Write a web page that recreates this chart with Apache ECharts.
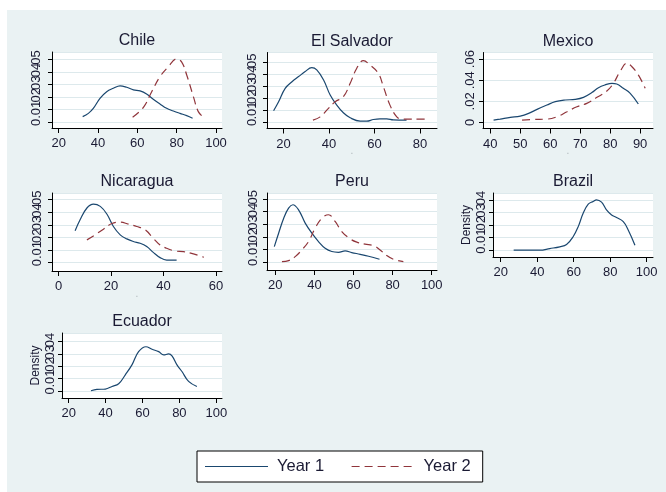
<!DOCTYPE html>
<html>
<head>
<meta charset="utf-8">
<script src="https://cdn.jsdelivr.net/npm/echarts@6/dist/echarts.min.js"></script>
<style>
  html, body { margin: 0; padding: 0; background: #ffffff; }
  #bg { position: absolute; left: 7px; top: 10px; width: 659px; height: 482px; background: #eaf2f3; }
  #chart { position: absolute; left: 0; top: 0; width: 666px; height: 492px; }
</style>
</head>
<body>
<div id="bg"></div>
<div id="chart"></div>
<script>
// ---- data ----
const countries = ['Chile', 'El Salvador', 'Mexico', 'Nicaragua', 'Peru', 'Brazil', 'Ecuador'];
const seriesNames = ['Year 1', 'Year 2'];

const chileYear1 = [[32.2,.0045],[35.1,.0071],[37.6,.011],[41.0,.019],[44.4,.0243],[47.8,.027],[51.2,.029],[54.6,.0278],[58.0,.0257],[61.4,.0249],[64.7,.0225],[68.1,.0183],[71.5,.0146],[74.9,.0111],[78.3,.009],[81.7,.0071],[85.1,.0053],[88.1,.0032]];
const chileYear2 = [[57.6,.004],[63.1,.0119],[67.3,.0243],[71.5,.0362],[75.8,.0442],[80.0,.0503],[82.5,.048],[85.1,.0376],[88.5,.0204],[91.0,.0085],[93.6,.004]];

const elSalvadorYear1 = [[15.6,.0098],[17.8,.0173],[20.7,.0285],[23.7,.034],[26.6,.0383],[29.5,.0425],[32.4,.0458],[34.6,.0439],[37.6,.0355],[40.5,.0229],[43.4,.0145],[46.3,.0081],[49.3,.0039],[53.7,.0011],[56.6,.0011],[59.5,.0025],[62.4,.0031],[65.4,.0031],[68.3,.0022],[74.1,.002]];
const elSalvadorYear2 = [[32.9,.002],[36.1,.0047],[39.0,.0103],[42.7,.0173],[46.3,.0215],[49.3,.0327],[52.2,.0453],[55.1,.0517],[58.0,.048],[61.7,.041],[63.9,.0299],[66.8,.0145],[69.8,.0047],[72.0,.0028],[75.6,.0028],[80.0,.0028],[84.1,.0028]];

const mexicoYear1 = [[41.1,.0022],[43.3,.0032],[46.7,.0048],[50.0,.006],[52.8,.0086],[55.6,.0124],[58.9,.0165],[61.7,.0197],[65.0,.0213],[68.3,.0219],[71.1,.0238],[73.9,.0283],[76.1,.033],[78.3,.0356],[80.6,.0371],[82.2,.0365],[84.4,.0324],[86.7,.0276],[89.4,.0175]];
const mexicoYear2 = [[50.6,.0022],[54.4,.0029],[58.9,.0032],[62.2,.0054],[65.6,.0102],[68.9,.0149],[72.2,.0181],[75.6,.0238],[78.9,.0298],[81.1,.0371],[83.3,.0483],[85.6,.0562],[87.2,.053],[89.4,.0451],[91.7,.0324]];

const nicaraguaYear1 = [[6.3,.0253],[8.2,.034],[10.8,.0434],[13.3,.0465],[15.9,.0447],[18.4,.0386],[20.9,.0287],[23.5,.0221],[26.0,.0189],[28.5,.0168],[31.1,.0154],[33.6,.0128],[36.1,.0082],[38.7,.004],[41.2,.0021],[45.0,.0021]];
const nicaraguaYear2 = [[10.8,.0181],[13.9,.0221],[17.1,.0266],[20.3,.0311],[23.5,.0322],[26.6,.0306],[29.8,.0287],[33.0,.0261],[36.1,.0194],[38.7,.0141],[41.2,.0114],[44.4,.0093],[47.6,.0088],[50.7,.0074],[55.4,.0043]];

const peruYear1 = [[19.5,.0124],[21.7,.023],[24.3,.0349],[26.8,.0429],[29.0,.0455],[31.9,.0415],[35.3,.031],[38.7,.023],[42.1,.0164],[45.5,.0111],[48.9,.0085],[52.3,.0079],[55.7,.009],[59.1,.0077],[63.4,.0063],[67.7,.0048],[73.3,.0024]];
const peruYear2 = [[23.4,.0005],[26.8,.0013],[30.2,.0045],[33.6,.0098],[37.0,.0164],[40.4,.027],[43.8,.0349],[47.2,.0376],[50.6,.0323],[54.0,.0243],[58.3,.0185],[61.7,.0159],[65.9,.0143],[70.2,.0132],[73.6,.0098],[77.0,.0053],[80.4,.0024],[85.5,.0005]];

const brazilYear1 = [[27.1,0],[34.1,0],[41.4,0],[46.9,.0013],[52.4,.0027],[56.1,.0045],[59.7,.0107],[62.5,.0187],[65.2,.0293],[68.0,.0365],[70.7,.0387],[72.5,.04],[75.3,.0381],[78.0,.032],[80.8,.028],[83.5,.0259],[87.2,.0227],[89.9,.016],[93.6,.004]];

const ecuadorYear1 = [[32.1,0],[35.3,.0011],[39.9,.0014],[43.5,.0035],[47.1,.0057],[50.7,.013],[54.3,.0211],[57.9,.0319],[61.9,.0359],[65.2,.0338],[68.8,.0319],[71.5,.0292],[74.2,.03],[76.0,.0284],[78.7,.0211],[81.4,.0157],[85.0,.0076],[89.5,.0035]];

// tick labels
const chileXTicks = [20, 40, 60, 80, 100];
const chileYTicks = [0, .01, .02, .03, .04, .05];
const elSalvadorXTicks = [20, 40, 60, 80];
const elSalvadorYTicks = [0, .01, .02, .03, .04, .05];
const mexicoXTicks = [40, 50, 60, 70, 80, 90];
const mexicoYTicks = [0, .02, .04, .06];
const nicaraguaXTicks = [0, 20, 40, 60];
const nicaraguaYTicks = [0, .01, .02, .03, .04, .05];
const peruXTicks = [20, 40, 60, 80, 100];
const peruYTicks = [0, .01, .02, .03, .04, .05];
const brazilXTicks = [20, 40, 60, 80, 100];
const brazilYTicks = [0, .01, .02, .03, .04];
const ecuadorXTicks = [20, 40, 60, 80, 100];
const ecuadorYTicks = [0, .01, .02, .03, .04];

// ---- layout (pixel boxes, axis extents, label gaps) ----
const panels = [
  { name: countries[0], box: [52, 52, 170, 76],  x: [16.6, 103.05], y: [-0.0045, 0.0558], ym: 9,   xt: chileXTicks, yt: chileYTicks, s1: chileYear1, s2: chileYear2 },
  { name: countries[1], box: [267, 52.5, 170, 76], x: [12.7, 87.5], y: [-0.0050, 0.0584], ym: 8.5, xt: elSalvadorXTicks, yt: elSalvadorYTicks, s1: elSalvadorYear1, s2: elSalvadorYear2, dot: true },
  { name: countries[2], box: [483, 52.5, 170, 76], x: [37.57, 94.3], y: [-0.0057, 0.0663], ym: 6,   xt: mexicoXTicks, yt: mexicoYTicks, s1: mexicoYear1, s2: mexicoYear2, dot: true },
  { name: countries[3], box: [52, 193, 170, 78],  x: [-2.51, 62.3], y: [-0.0066, 0.0553], ym: 8,   xt: nicaraguaXTicks, yt: nicaraguaYTicks, s1: nicaraguaYear1, s2: nicaraguaYear2, dot: true },
  { name: countries[4], box: [267, 193, 170, 77], x: [15.76, 102.7], y: [-0.0061, 0.0548], ym: 7.5, xt: peruXTicks, yt: peruYTicks, s1: peruYear1, s2: peruYear2 },
  { name: countries[5], box: [493, 193, 160, 64], x: [15.77, 103.5], y: [-0.0054, 0.0454], ym: 5.5, xt: brazilXTicks, yt: brazilYTicks, s1: brazilYear1, density: true },
  { name: countries[6], box: [62, 333, 160, 65],  x: [16.4, 103.1], y: [-0.0059, 0.0471], ym: 5.5, xt: ecuadorXTicks, yt: ecuadorYTicks, s1: ecuadorYear1, density: true }
];

const FONT = "'Liberation Sans', Arial, sans-serif";
const TXT = '#1a1a33';
const NAVY = '#1a476f';
const MAROON = '#90353b';

const ICON_SOLID = 'path://M0,0 M0,6.4H63V7.6H0Z M63,14';
const ICON_DASH = 'path://M0,0 M0,6.4H8V7.6H0Z M13,6.4H21V7.6H13Z M26,6.4H34V7.6H26Z M39,6.4H47V7.6H39Z M52,6.4H60V7.6H52Z M63,14';

const grids = [], xAxes = [], yAxes = [], series = [], graphics = [];

panels.forEach((p, i) => {
  const [l, t, w, h] = p.box;
  const isTick = v => p.yt.some(tv => Math.abs(tv - v) < 1e-9);
  // extreme (empty) entries stop the min/max-label overlap rule from dropping real labels
  const yVals = [p.y[0]].concat(p.yt, [p.y[1]]);
  grids.push({ left: l, top: t, width: w, height: h, show: true, backgroundColor: '#ffffff', borderWidth: 0, outerBoundsMode: 'none', containLabel: false });
  xAxes.push({
    type: 'value', gridIndex: i, min: p.x[0], max: p.x[1],
    axisLine: { show: true, onZero: false, lineStyle: { color: '#000', width: 1 } },
    axisTick: { show: true, length: 5, customValues: p.xt, lineStyle: { color: '#000' } },
    axisLabel: { show: true, customValues: p.xt, margin: 9, fontSize: 13, fontFamily: FONT, color: TXT, hideOverlap: false, showMinLabel: true, showMaxLabel: true },
    splitLine: { show: false },
    name: p.dot ? '.' : '', nameLocation: 'middle', nameGap: 18, nameMoveOverlap: false,
    nameTextStyle: { color: '#b0b8bb', fontSize: 10, fontFamily: FONT }
  });
  yAxes.push({
    type: 'value', gridIndex: i, min: p.y[0], max: p.y[1],
    axisLine: { show: true, onZero: false, lineStyle: { color: '#000', width: 1 } },
    axisTick: { show: true, length: 4, customValues: yVals, lineStyle: { color: '#000' } },
    axisLabel: {
      show: true, customValues: yVals, rotate: 90, margin: p.ym, fontSize: 13, fontFamily: FONT, color: TXT,
      formatter: v => isTick(v) ? (Math.abs(v) < 1e-12 ? '0' : v.toFixed(2).replace(/^0/, '')) : '',
      hideOverlap: false, showMinLabel: false, showMaxLabel: false
    },
    splitLine: { show: true, lineStyle: { color: '#dde9ec', width: 1 } },
    name: p.density ? 'Density' : '', nameLocation: 'middle', nameGap: 20, nameMoveOverlap: false,
    nameTextStyle: { color: TXT, fontSize: 12, fontFamily: FONT }
  });
  series.push({
    name: seriesNames[0], type: 'line', xAxisIndex: i, yAxisIndex: i, data: p.s1,
    smooth: 0.4, symbol: 'none', lineStyle: { color: NAVY, width: 1.2 }, itemStyle: { color: NAVY }, silent: true
  });
  if (p.s2) {
    series.push({
      name: seriesNames[1], type: 'line', xAxisIndex: i, yAxisIndex: i, data: p.s2,
      smooth: 0.4, symbol: 'none', lineStyle: { color: MAROON, width: 1.2, type: [8, 5] }, itemStyle: { color: MAROON }, silent: true
    });
  }
  graphics.push({
    type: 'text', x: l + w / 2, y: t - 11,
    style: { text: p.name, fontSize: 16, fontFamily: FONT, fill: TXT, align: 'center', verticalAlign: 'middle' }
  });
});

const chart = echarts.init(document.getElementById('chart'), null, { renderer: 'canvas' });
chart.setOption({
  backgroundColor: 'transparent',
  animation: false,
  grid: grids,
  xAxis: xAxes,
  yAxis: yAxes,
  series: series,
  graphic: graphics,
  legend: {
    data: [
      { name: seriesNames[0], icon: ICON_SOLID, itemStyle: { color: NAVY } },
      { name: seriesNames[1], icon: ICON_DASH, itemStyle: { color: MAROON } }
    ],
    left: 197, top: 451,
    orient: 'horizontal',
    itemWidth: 63, itemHeight: 14, itemGap: 27.5,
    padding: [7, 12, 7, 8],
    backgroundColor: '#ffffff',
    borderColor: '#000', borderWidth: 1, borderRadius: 0,
    textStyle: { fontSize: 16.5, fontFamily: FONT, color: TXT, padding: [0, 0, 0, 4] },
    selectedMode: false
  }
});
</script>
</body>
</html>
